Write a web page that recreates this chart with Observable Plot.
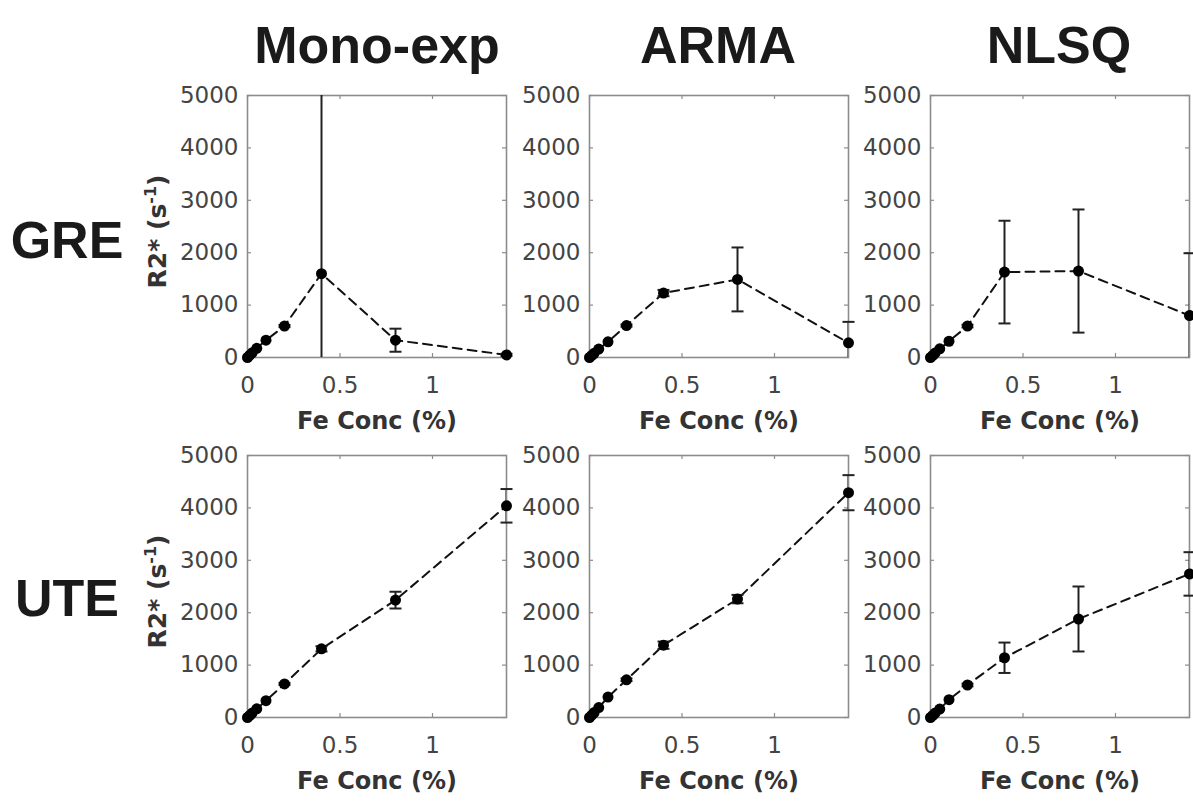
<!DOCTYPE html>
<html>
<head>
<meta charset="utf-8">
<script src="https://cdn.jsdelivr.net/npm/d3@7"></script>
<script src="https://cdn.jsdelivr.net/npm/@observablehq/plot@0.6"></script>
<style>
  body { margin: 0; background: #fff; }
  #wrap { position: relative; width: 1193px; height: 801px; overflow: hidden; background: #fff;
          font-family: "Liberation Sans", Arial, Helvetica, sans-serif; }
  .panel { position: absolute; }
  .panel svg { max-width: none !important; display: block; }
  .lbl { position: absolute; font-weight: bold; color: #1a1a1a; white-space: nowrap;
         transform: translate(-50%, -50%); line-height: 1; }
  .col { font-size: 52px; }
  .row { font-size: 52px; }
</style>
</head>
<body>
<div id="wrap"></div>
<script>
// ---- data ----
const conc = [0, 0.0125, 0.025, 0.05, 0.1, 0.2, 0.4, 0.8, 1.4];
const methods = ["Mono-exp", "ARMA", "NLSQ"];
const sequences = ["GRE", "UTE"];
const xTicks = [0, 0.5, 1];
const yTicks = [0, 1000, 2000, 3000, 4000, 5000];

const greMono     = [0, 45, 90, 175, 330, 600, 1600, 330, 50];
const greMonoErr  = [0, 0, 0, 0, 0, 20, 6000, 220, 20];
const greArma     = [0, 40, 80, 160, 300, 610, 1230, 1490, 280];
const greArmaErr  = [0, 0, 0, 0, 0, 20, 60, 610, 400];
const greNlsq     = [0, 40, 85, 165, 310, 600, 1630, 1650, 800];
const greNlsqErr  = [0, 0, 0, 0, 0, 25, 980, 1175, 1190];
const uteMono     = [0, 40, 85, 165, 320, 640, 1310, 2240, 4040];
const uteMonoErr  = [0, 0, 0, 0, 0, 20, 50, 160, 320];
const uteArma     = [0, 45, 95, 190, 390, 720, 1380, 2260, 4290];
const uteArmaErr  = [0, 0, 0, 0, 0, 25, 70, 80, 335];
const uteNlsq     = [0, 40, 85, 160, 340, 620, 1140, 1880, 2740];
const uteNlsqErr  = [0, 0, 0, 0, 0, 25, 290, 620, 415];

const series = {
  GRE: [[greMono, greMonoErr], [greArma, greArmaErr], [greNlsq, greNlsqErr]],
  UTE: [[uteMono, uteMonoErr], [uteArma, uteArmaErr], [uteNlsq, uteNlsqErr]]
};

// ---- layout ----
const panelLeft = [247, 589, 930];
const panelTop = [95, 455];
const W = 259, H = 262;
const mL = 110, mR = 20, mT = 15, mB = 90;
const tickFont = "'DejaVu Sans', 'Liberation Sans', sans-serif";

const wrap = document.getElementById("wrap");

// cap symbol: horizontal segment of width 2r
const capSymbol = {
  draw(context, size) {
    const r = Math.sqrt(size / Math.PI);
    context.moveTo(-r, 0);
    context.lineTo(r, 0);
  }
};

sequences.forEach((seq, j) => {
  methods.forEach((m, i) => {
    const [vals, errs] = series[seq][i];
    const data = conc.map((x, k) => ({x, y: vals[k], lo: vals[k] - errs[k], hi: vals[k] + errs[k], e: errs[k]}));
    const marks = [
      Plot.ruleY(yTicks, {y: d => d, insetRight: W - 4, stroke: "#8c8c8c", strokeWidth: 1.2}),
      Plot.ruleY(yTicks, {y: d => d, insetLeft: W - 4, stroke: "#8c8c8c", strokeWidth: 1.2}),
      Plot.ruleX(xTicks, {x: d => d, insetTop: H - 4, stroke: "#8c8c8c", strokeWidth: 1.2}),
      Plot.ruleX(xTicks, {x: d => d, insetBottom: H - 4, stroke: "#8c8c8c", strokeWidth: 1.2}),
      Plot.frame({stroke: "#8c8c8c", strokeWidth: 1.6}),
      Plot.axisY({ticks: yTicks, tickSize: 0, tickPadding: 9, label: null, tickFormat: d => String(d)}),
      Plot.axisX({ticks: xTicks, tickSize: 0, tickPadding: 19, label: null, tickFormat: d => String(d)}),
      Plot.line(data, {x: "x", y: "y", stroke: "#111", strokeWidth: 2, strokeDasharray: "9,6"}),
      Plot.ruleX(data.filter(d => d.e > 0), {x: "x", y1: "lo", y2: "hi", stroke: "#222", strokeWidth: 2, clip: true}),
      Plot.dot(data.filter(d => d.e > 0 && d.hi <= 5000), {x: "x", y: "hi", symbol: capSymbol, r: 6, fill: "none", stroke: "#222", strokeWidth: 2}),
      Plot.dot(data.filter(d => d.e > 0 && d.lo >= 0), {x: "x", y: "lo", symbol: capSymbol, r: 6, fill: "none", stroke: "#222", strokeWidth: 2}),
      Plot.dot(data, {x: "x", y: "y", r: 5.5, fill: "#000", stroke: "none"}),
      Plot.text(["Fe Conc (%)"], {text: d => d, frameAnchor: "bottom", dy: 71, fontWeight: "bold", fontSize: 24, fill: "#333"})
    ];
    if (i === 0) {
      marks.push(Plot.text(["R2* (s-1)"], {text: d => d, frameAnchor: "left", textAnchor: "middle", rotate: -90, dx: -90, dy: 5, fontWeight: "bold", fontSize: 25, fill: "#333"}));
    }
    const svg = Plot.plot({
      width: mL + W + mR,
      height: mT + H + mB,
      marginLeft: mL, marginRight: mR, marginTop: mT, marginBottom: mB,
      x: {domain: [0, 1.4]},
      y: {domain: [0, 5000]},
      style: {fontSize: "23px", fontFamily: tickFont, color: "#444", background: "transparent", overflow: "visible", maxWidth: "none"},
      marks
    });
    d3.select(svg).selectAll("text").filter(function () { return this.textContent === "R2* (s-1)"; })
      .html('R2* (s<tspan dy="-10" font-size="16">-1</tspan><tspan dy="10">)</tspan>');
    const div = document.createElement("div");
    div.className = "panel";
    div.style.left = (panelLeft[i] - mL) + "px";
    div.style.top = (panelTop[j] - mT) + "px";
    div.style.width = (mL + W + mR) + "px";
    div.appendChild(svg);
    wrap.appendChild(div);
  });
});

// column titles
const colX = [377, 718, 1059];
methods.forEach((m, i) => {
  const t = document.createElement("div");
  t.className = "lbl col";
  t.textContent = m;
  t.style.left = colX[i] + "px";
  t.style.top = "45px";
  wrap.appendChild(t);
});
// row labels
const rowY = [240, 598];
sequences.forEach((s, j) => {
  const t = document.createElement("div");
  t.className = "lbl row";
  t.textContent = s;
  t.style.left = "67px";
  t.style.top = rowY[j] + "px";
  wrap.appendChild(t);
});
</script>
</body>
</html>
